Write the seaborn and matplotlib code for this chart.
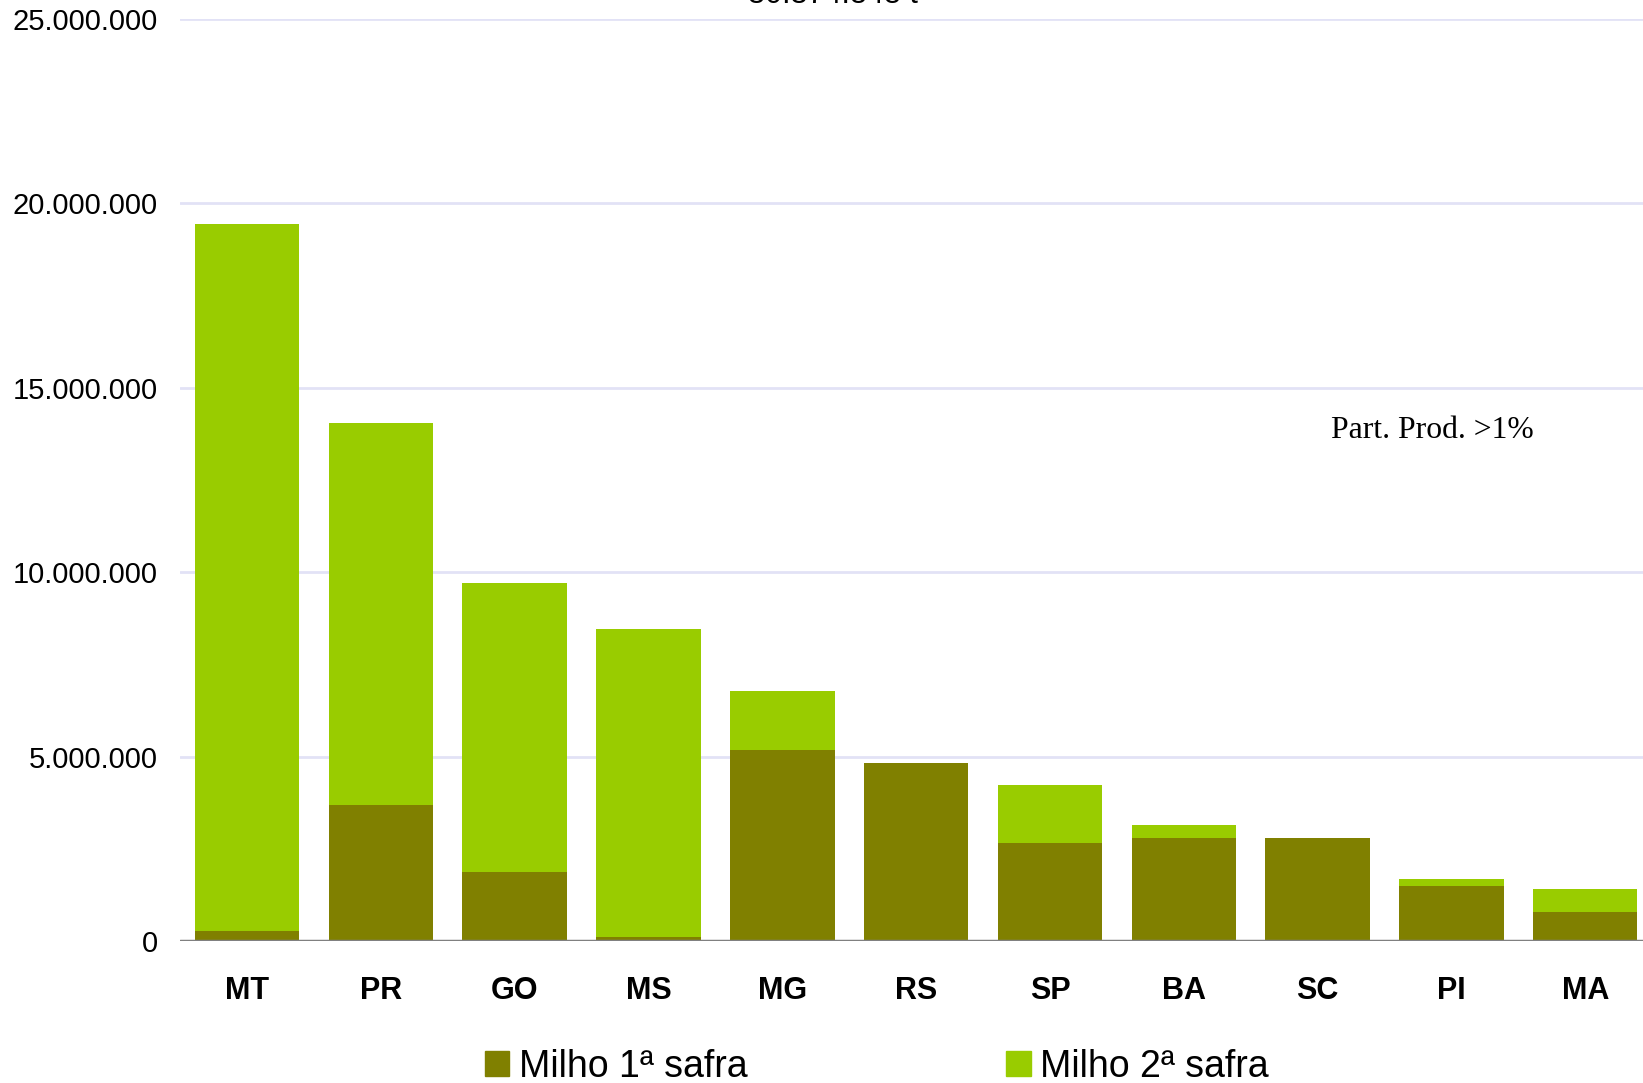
import matplotlib
matplotlib.use('Agg')
import matplotlib.pyplot as plt
from matplotlib.patches import Patch
from matplotlib.ticker import FuncFormatter
import seaborn as sns
import pandas as pd

states = ["MT", "PR", "GO", "MS", "MG", "RS", "SP", "BA", "SC", "PI", "MA"]
safra1 = [280000, 3690000, 1870000, 110000, 5170000, 4830000, 2670000, 2780000, 2780000, 1480000, 800000]
safra2 = [19150000, 10370000, 7850000, 8360000, 1620000, 0, 1560000, 370000, 0, 190000, 600000]
yticks = [0, 5000000, 10000000, 15000000, 20000000, 25000000]

c1 = "#808000"
c2 = "#99CC00"

sns.set_style("white")
plt.rcParams['font.family'] = ['Liberation Sans', 'DejaVu Sans']
plt.rcParams['text.color'] = 'black'
plt.rcParams['xtick.color'] = 'black'
plt.rcParams['ytick.color'] = 'black'

df = pd.DataFrame({"uf": states, "s1": safra1, "s2": safra2})
df["total"] = df["s1"] + df["s2"]

fig = plt.figure(figsize=(16.43, 10.83), dpi=100)
ax = fig.add_axes([0.1096, 0.1311, 0.896, 0.8513])

# stacked: total (2a safra on top) drawn first, 1a safra over it
sns.barplot(data=df, x="uf", y="total", color=c2, saturation=1, width=0.78, linewidth=0, ax=ax)
sns.barplot(data=df, x="uf", y="s1", color=c1, saturation=1, width=0.78, linewidth=0, ax=ax)

ax.set_xlim(-0.5, 10.5)
ax.set_ylim(0, 25000000)
ax.set_yticks(yticks)
ax.yaxis.set_major_formatter(FuncFormatter(lambda v, p: "{:,.0f}".format(v).replace(",", ".")))
ax.grid(axis="y", color="#E2E2F6", lw=2)
ax.set_axisbelow(True)
ax.axhline(0, color="#808080", lw=2.5, zorder=5)
for s in ax.spines.values():
    s.set_visible(False)
ax.set_xlabel("")
ax.set_ylabel("")
ax.tick_params(axis="y", length=0, pad=16, labelsize=21, labelcolor="black")
ax.tick_params(axis="x", length=0, pad=25, labelsize=22, labelcolor="black")
for lab in ax.get_xticklabels():
    lab.set_fontweight("bold")

ax.text(8.1, 13.85e6, "Part. Prod. >1%", family="Liberation Serif", fontsize=22.8, va="center", ha="left")

fig.text(833 / 1643, 1 - 3 / 1083, "30.374.848 t", fontsize=22, ha="center", va="baseline")

handles = [Patch(color=c1, label="Milho 1ª safra"), Patch(color=c2, label="Milho 2ª safra")]
fig.legend(handles=handles, loc="center left", bbox_to_anchor=(485 / 1643, 1 - 1067 / 1083),
           ncol=2, frameon=False, fontsize=27, handlelength=0.65, handleheight=0.65,
           handletextpad=0.25, columnspacing=6.9, borderpad=0, borderaxespad=0)

plt.savefig("out.png", dpi=100)
plt.close()
